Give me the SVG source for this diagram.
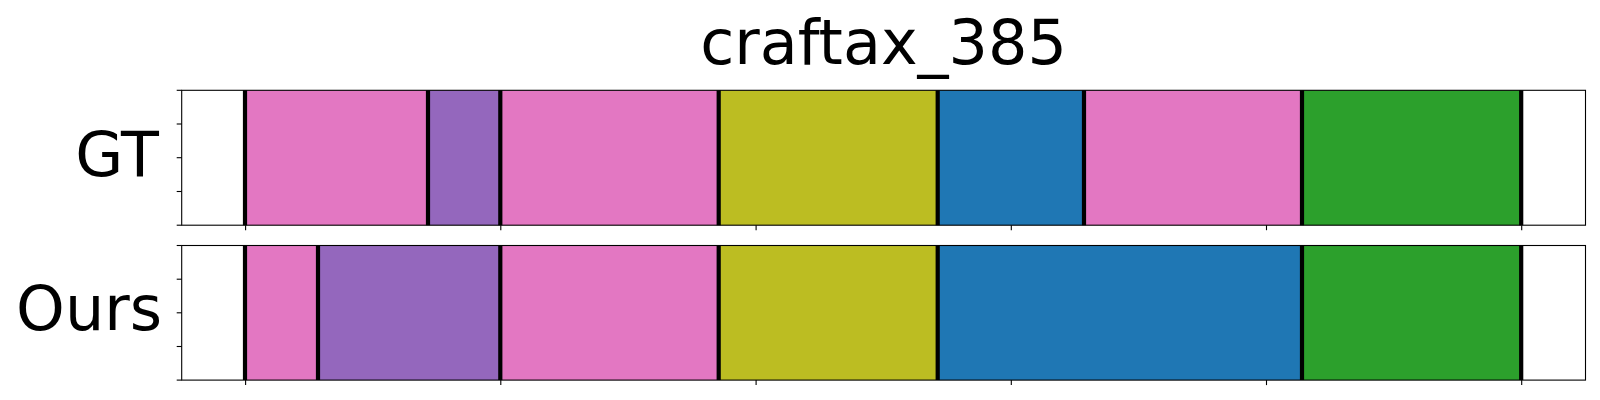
<svg xmlns="http://www.w3.org/2000/svg" width="1600" height="400" viewBox="0 0 1600 400">
<style>
.t{font-family:"DejaVu Sans","Liberation Sans",sans-serif;fill:#000}
.pink{fill:#e377c2}.purple{fill:#9467bd}.olive{fill:#bcbd22}.blue{fill:#1f77b4}.green{fill:#2ca02c}
.b{stroke:#000;stroke-width:4.2}
.sp{fill:none;stroke:#000;stroke-width:1.1}
.tk{stroke:#000;stroke-width:1.1}
</style>
<rect width="1600" height="400" fill="#fff"/>
<text class="t" x="883.6" y="63.5" font-size="62" text-anchor="middle">craftax_385</text>
<g id="gt-axis">
<text class="t" x="159" y="176" font-size="62" text-anchor="end">GT</text>
<g id="gt-segments">
<rect class="pink" x="245" y="90.3" width="183" height="134.9"/>
<rect class="purple" x="428" y="90.3" width="72.3" height="134.9"/>
<rect class="pink" x="500.3" y="90.3" width="218.4" height="134.9"/>
<rect class="olive" x="718.7" y="90.3" width="219" height="134.9"/>
<rect class="blue" x="937.7" y="90.3" width="146.3" height="134.9"/>
<rect class="pink" x="1084" y="90.3" width="218" height="134.9"/>
<rect class="green" x="1302" y="90.3" width="219.2" height="134.9"/>
</g>
<g id="gt-boundaries">
<line class="b" x1="245" y1="90.3" x2="245" y2="225.2"/>
<line class="b" x1="428" y1="90.3" x2="428" y2="225.2"/>
<line class="b" x1="500.3" y1="90.3" x2="500.3" y2="225.2"/>
<line class="b" x1="718.7" y1="90.3" x2="718.7" y2="225.2"/>
<line class="b" x1="937.7" y1="90.3" x2="937.7" y2="225.2"/>
<line class="b" x1="1084" y1="90.3" x2="1084" y2="225.2"/>
<line class="b" x1="1302" y1="90.3" x2="1302" y2="225.2"/>
<line class="b" x1="1521.2" y1="90.3" x2="1521.2" y2="225.2"/>
</g>
<rect class="sp" x="181.7" y="90.3" width="1403.8" height="134.9"/>
<g id="gt-ticks">
<line class="tk" x1="176.7" y1="90.3" x2="181.7" y2="90.3"/>
<line class="tk" x1="176.7" y1="124" x2="181.7" y2="124"/>
<line class="tk" x1="176.7" y1="157.7" x2="181.7" y2="157.7"/>
<line class="tk" x1="176.7" y1="191.5" x2="181.7" y2="191.5"/>
<line class="tk" x1="176.7" y1="225.2" x2="181.7" y2="225.2"/>
<line class="tk" x1="245.6" y1="225.2" x2="245.6" y2="230.2"/>
<line class="tk" x1="500.8" y1="225.2" x2="500.8" y2="230.2"/>
<line class="tk" x1="756.1" y1="225.2" x2="756.1" y2="230.2"/>
<line class="tk" x1="1011.3" y1="225.2" x2="1011.3" y2="230.2"/>
<line class="tk" x1="1266.5" y1="225.2" x2="1266.5" y2="230.2"/>
<line class="tk" x1="1521.7" y1="225.2" x2="1521.7" y2="230.2"/>
</g>
</g>
<g id="ours-axis">
<text class="t" x="162" y="330" font-size="62" text-anchor="end">Ours</text>
<g id="ours-segments">
<rect class="pink" x="245" y="245.5" width="73" height="134.6"/>
<rect class="purple" x="318" y="245.5" width="182.3" height="134.6"/>
<rect class="pink" x="500.3" y="245.5" width="218.4" height="134.6"/>
<rect class="olive" x="718.7" y="245.5" width="219" height="134.6"/>
<rect class="blue" x="937.7" y="245.5" width="364.3" height="134.6"/>
<rect class="green" x="1302" y="245.5" width="219.2" height="134.6"/>
</g>
<g id="ours-boundaries">
<line class="b" x1="245" y1="245.5" x2="245" y2="380.1"/>
<line class="b" x1="318" y1="245.5" x2="318" y2="380.1"/>
<line class="b" x1="500.3" y1="245.5" x2="500.3" y2="380.1"/>
<line class="b" x1="718.7" y1="245.5" x2="718.7" y2="380.1"/>
<line class="b" x1="937.7" y1="245.5" x2="937.7" y2="380.1"/>
<line class="b" x1="1302" y1="245.5" x2="1302" y2="380.1"/>
<line class="b" x1="1521.2" y1="245.5" x2="1521.2" y2="380.1"/>
</g>
<rect class="sp" x="181.7" y="245.5" width="1403.8" height="134.6"/>
<g id="ours-ticks">
<line class="tk" x1="176.7" y1="245.5" x2="181.7" y2="245.5"/>
<line class="tk" x1="176.7" y1="279.2" x2="181.7" y2="279.2"/>
<line class="tk" x1="176.7" y1="312.8" x2="181.7" y2="312.8"/>
<line class="tk" x1="176.7" y1="346.5" x2="181.7" y2="346.5"/>
<line class="tk" x1="176.7" y1="380.1" x2="181.7" y2="380.1"/>
<line class="tk" x1="245.6" y1="380.1" x2="245.6" y2="385.1"/>
<line class="tk" x1="500.8" y1="380.1" x2="500.8" y2="385.1"/>
<line class="tk" x1="756.1" y1="380.1" x2="756.1" y2="385.1"/>
<line class="tk" x1="1011.3" y1="380.1" x2="1011.3" y2="385.1"/>
<line class="tk" x1="1266.5" y1="380.1" x2="1266.5" y2="385.1"/>
<line class="tk" x1="1521.7" y1="380.1" x2="1521.7" y2="385.1"/>
</g>
</g>
</svg>
